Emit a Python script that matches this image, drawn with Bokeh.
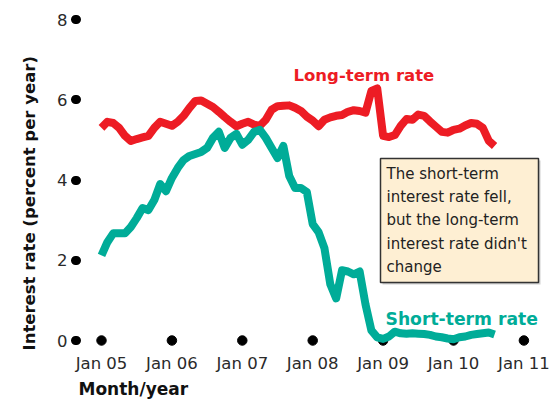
from bokeh.plotting import figure
from bokeh.models import Label, BoxAnnotation, FixedTicker, Range1d, Title
from bokeh.embed import file_html
from bokeh.resources import INLINE

# ---- data (monthly, starting Jan 2005) ----
start_year = 2005
long_term = [5.30, 5.45, 5.42, 5.30, 5.10, 4.97, 5.02, 5.06, 5.10, 5.30, 5.45, 5.40,
             5.35, 5.45, 5.60, 5.80, 5.97, 5.98, 5.90, 5.82, 5.70, 5.57, 5.45, 5.34,
             5.40, 5.45, 5.38, 5.35, 5.50, 5.75, 5.84, 5.85, 5.86, 5.80, 5.72, 5.58,
             5.48, 5.34, 5.50, 5.56, 5.60, 5.62, 5.70, 5.74, 5.72, 5.68, 6.22, 6.28,
             5.10, 5.07, 5.12, 5.35, 5.52, 5.50, 5.63, 5.60, 5.46, 5.33, 5.20, 5.18,
             5.25, 5.28, 5.36, 5.42, 5.40, 5.30, 4.98, 4.85]
short_term = [2.12, 2.45, 2.67, 2.67, 2.67, 2.83, 3.05, 3.30, 3.25, 3.50, 3.90, 3.72,
              4.05, 4.30, 4.50, 4.60, 4.65, 4.70, 4.80, 5.05, 5.20, 4.80, 5.05, 5.15,
              4.88, 5.00, 5.20, 5.25, 5.05, 4.80, 4.55, 4.85, 4.10, 3.80, 3.80, 3.70,
              2.90, 2.70, 2.30, 1.40, 1.05, 1.75, 1.72, 1.65, 1.72, 0.90, 0.25, 0.08,
              0.04, 0.10, 0.22, 0.18, 0.17, 0.18, 0.17, 0.16, 0.14, 0.10, 0.08, 0.05,
              0.03, 0.08, 0.10, 0.14, 0.16, 0.18, 0.20, 0.15]
x_ticks = [2005, 2006, 2007, 2008, 2009, 2010, 2011]
x_tick_labels = ["Jan 05", "Jan 06", "Jan 07", "Jan 08", "Jan 09", "Jan 10", "Jan 11"]
y_ticks = [0, 2, 4, 6, 8]
y_tick_labels = ["0", "2", "4", "6", "8"]

months_long = [start_year + i / 12 for i in range(len(long_term))]
months_short = [start_year + i / 12 for i in range(len(short_term))]

RED = "#ED1C24"
TEAL = "#00AC98"
FONT = "DejaVu Sans"

# ---- layout geometry (page pixels) ----
W, H = 552, 401
PX_PER_YEAR = 70.4
PX_PER_UNIT = 40.125
X0_PX, Y0_PX = 101, 340            # page pixel of (Jan 05, 0)
FL, FR, FT, FB = 76, 552, 12, 348  # frame edges (page px)

def dx(px):
    return start_year + (px - X0_PX) / PX_PER_YEAR

def dy(py):
    return (Y0_PX - py) / PX_PER_UNIT

p = figure(width=W, height=H, output_backend="svg", toolbar_location=None,
           x_range=Range1d(dx(FL), dx(FR)), y_range=Range1d(dy(FB), dy(FT)),
           min_border_left=FL, min_border_right=W - FR,
           min_border_top=FT, min_border_bottom=H - FB)
p.outline_line_color = None
p.xgrid.visible = False
p.ygrid.visible = False

# x axis at frame bottom: labels only
xa = p.xaxis[0]
xa.ticker = FixedTicker(ticks=x_ticks)
xa.major_label_overrides = {t: l for t, l in zip(x_ticks, x_tick_labels)}
xa.axis_line_color = None
xa.major_tick_line_color = None
xa.minor_tick_line_color = None
xa.major_tick_in = 0
xa.major_tick_out = 0
xa.major_label_standoff = 5
xa.major_label_text_font = FONT
xa.major_label_text_font_size = "16.5px"
xa.major_label_text_color = "#2a2a2a"

# y axis: ticks drawn as round dots
ya = p.yaxis[0]
ya.axis_line_color = None
ya.major_tick_in = 0
ya.major_tick_out = 1
ya.major_tick_line_width = 9
ya.major_tick_line_cap = "round"
ya.major_tick_line_color = "black"
ya.minor_tick_line_color = None
ya.ticker = FixedTicker(ticks=y_ticks)
ya.major_label_overrides = {t: l for t, l in zip(y_ticks, y_tick_labels)}
ya.major_label_standoff = 8
ya.major_label_text_font = FONT
ya.major_label_text_font_size = "16.5px"
ya.major_label_text_color = "#2a2a2a"

# x-axis tick dots on the zero line
p.scatter(x_ticks, [0] * len(x_ticks), size=9.5, color="black")

p.line(months_long, long_term, line_color=RED, line_width=8, line_join="round")
p.line(months_short, short_term, line_color=TEAL, line_width=8, line_join="round")

# annotation box (shadow + box)
p.add_layout(BoxAnnotation(left=dx(382), right=dx(540), top=dy(160), bottom=dy(284),
                           fill_color="#cfcfcf", fill_alpha=1, line_color=None))
p.add_layout(BoxAnnotation(left=dx(380), right=dx(538), top=dy(158), bottom=dy(282),
                           fill_color="#FEEFD3", fill_alpha=1, line_color="#333333",
                           line_width=1.5, line_alpha=1))
p.add_layout(Label(x=dx(386), y=dy(164), text="The short-term\ninterest rate fell,\nbut the long-term\ninterest rate didn't\nchange",
                   text_font=FONT, text_font_size="15px", text_color="#222222",
                   text_baseline="top", text_align="left", text_line_height=1.3))

p.add_layout(Label(x=dx(293), y=dy(75), text="Long-term rate", text_font=FONT,
                   text_font_style="bold", text_font_size="16.5px", text_color=RED,
                   text_baseline="alphabetic"))
p.add_layout(Label(x=dx(385), y=dy(318), text="Short-term rate", text_font=FONT,
                   text_font_style="bold", text_font_size="17.2px", text_color=TEAL,
                   text_baseline="alphabetic"))

# axis titles as side-panel titles
p.add_layout(Title(text="Month/year", align="left", offset=2, standoff=3,
                   text_font=FONT, text_font_style="bold", text_font_size="17px",
                   text_color="#111111"), "below")
p.add_layout(Title(text="Interest rate (percent per year)", align="left", offset=-2, standoff=32,
                   text_font=FONT, text_font_style="bold", text_font_size="16.5px",
                   text_color="#111111"), "left")

open("out.html", "w").write(file_html(p, INLINE))
